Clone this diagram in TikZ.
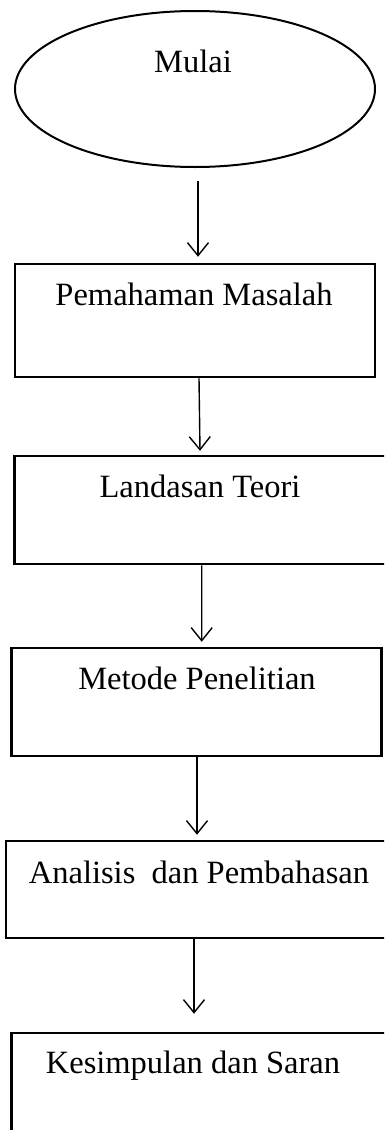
\documentclass[tikz,border=0pt]{standalone}
\usepackage{fontspec}
\setmainfont{Liberation Serif}
\usetikzlibrary{arrows.meta,calc,shapes.geometric}
\begin{document}
\begin{tikzpicture}[x=1pt,y=-1pt,
  box/.style={draw, line width=2.5pt, rectangle, inner sep=0pt},
  lbl/.style={anchor=base, inner sep=0pt, font=\fontsize{32.5}{38}\selectfont},
  arr/.style={line width=1.4pt, -{Straight Barb[length=13pt,width=21pt,line width=1.4pt]}}]
\useasboundingbox (0,0) rectangle (384,1130);
\clip (0,0) rectangle (384,1130);
\node[ellipse, draw, line width=2pt, minimum width=360pt, minimum height=156pt, inner sep=0pt] (e) at (195,89) {};
\node[lbl] (t0) at (193,72) {Mulai};
\node[box, minimum width=360pt, minimum height=113pt] (b1) at (195,320.5) {};
\node[box, minimum width=373.3pt, minimum height=108pt] (b2) at (201.35,510) {};
\node[box, minimum width=370pt, minimum height=108pt] (b3) at (196.7,702) {};
\node[box, minimum width=384pt, minimum height=97pt] (b4) at (198,889.5) {};
\node[box, minimum width=378.3pt, minimum height=107pt] (b5) at (200.85,1086.5) {};
\node[lbl] (t1) at (194,305) {Pemahaman Masalah};
\node[lbl] (t2) at (200,497) {Landasan Teori};
\node[lbl] (t3) at (197,689) {Metode Penelitian};
\node[lbl] (t4) at (199,883) {Analisis\ \ dan Pembahasan};
\node[lbl] (t5) at (193,1073) {Kesimpulan dan Saran};
\draw[arr] ($(e.south)+(3,13)$) -- ($(b1.north)+(3,-6)$);
\draw[arr] ($(b1.south)+(4,0)$) -- ($(b2.north)+(-1.35,-4)$);
\draw[arr] ($(b2.south)+(0.35,0)$) -- ($(b3.north)+(5,-5)$);
\draw[arr] ($(b3.south)+(0.3,0)$) -- ($(b4.north)+(-1,-5)$);
\draw[arr] ($(b4.south)+(-4,0)$) -- ($(b5.north)+(-6.85,-18)$);
\end{tikzpicture}
\end{document}
